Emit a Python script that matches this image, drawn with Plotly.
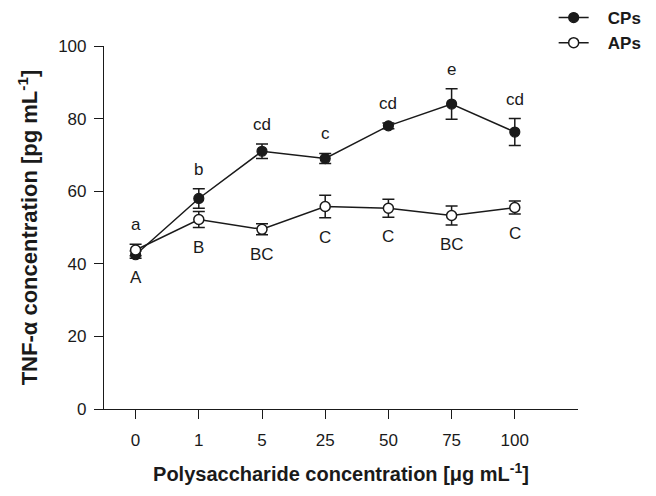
import plotly.graph_objects as go

categories = ["0", "1", "5", "25", "50", "75", "100"]
cps_mean = [42.5, 58.0, 71.0, 69.0, 78.0, 84.0, 76.3]
cps_err = [1.0, 2.7, 2.0, 1.4, 0.8, 4.2, 3.7]
aps_mean = [43.8, 52.2, 49.5, 55.8, 55.3, 53.3, 55.5]
aps_err = [1.6, 2.2, 1.5, 3.1, 2.5, 2.6, 1.8]
cps_letters = ["a", "b", "cd", "c", "cd", "e", "cd"]
aps_letters = ["A", "B", "BC", "C", "C", "BC", "C"]
y_ticks = [0, 20, 40, 60, 80, 100]

FONT = "Arial, Liberation Sans, sans-serif"
INK = "#1a1a1a"
NB = "\u00a0\u00a0\u00a0"
xs = list(range(len(categories)))

fig = go.Figure()
fig.add_trace(go.Scatter(
    x=xs, y=cps_mean, name=NB + "CPs", mode="lines+markers",
    line=dict(color=INK, width=1.5),
    marker=dict(symbol="circle", size=10, color=INK, line=dict(color=INK, width=1.2)),
    error_y=dict(type="data", array=cps_err, color=INK, thickness=1.5, width=6),
    legendgroup="c",
))
fig.add_trace(go.Scatter(
    x=xs, y=aps_mean, name=NB + "APs", mode="lines+markers",
    line=dict(color=INK, width=1.5),
    marker=dict(symbol="circle", size=10, color="white", line=dict(color=INK, width=1.5)),
    error_y=dict(type="data", array=aps_err, color=INK, thickness=1.5, width=6),
    legendgroup="a",
))

annotations = []
for i in xs:
    top = cps_mean[i] + cps_err[i]
    if i == 0:
        top = max(top, aps_mean[i] + aps_err[i])
    annotations.append(dict(x=i, y=top, xref="x", yref="y", text=cps_letters[i],
                            showarrow=False, yanchor="bottom", yshift=8,
                            font=dict(family=FONT, size=17, color=INK)))
    bot = aps_mean[i] - aps_err[i]
    if i == 0:
        bot = min(bot, cps_mean[i] - cps_err[i])
    annotations.append(dict(x=i, y=bot, xref="x", yref="y", text=aps_letters[i],
                            showarrow=False, yanchor="top", yshift=-8,
                            font=dict(family=FONT, size=17, color=INK)))

fig.update_layout(
    width=656, height=496,
    margin=dict(l=104, r=78, t=46, b=87, autoexpand=False),
    paper_bgcolor="white", plot_bgcolor="white",
    font=dict(family=FONT, color=INK),
    showlegend=True,
    legend=dict(x=0.844, y=1.0, xref="container", yref="container",
                xanchor="left", yanchor="top",
                font=dict(family=FONT, size=17, color=INK, weight="bold"),
                bgcolor="rgba(0,0,0,0)", tracegroupgap=0, itemwidth=30),
    annotations=annotations,
    xaxis=dict(
        range=[-0.5, 7.0], tickmode="array", tickvals=xs, ticktext=categories,
        showgrid=False, zeroline=False, showline=True, linecolor=INK, linewidth=1.2,
        ticks="outside", ticklen=9, tickwidth=1.2, tickcolor=INK,
        tickfont=dict(family=FONT, size=17, color=INK), ticklabelstandoff=6,
        title=dict(text="Polysaccharide concentration [μg mL<sup>-1</sup>]",
                   font=dict(family=FONT, size=20, color=INK, weight="bold"), standoff=18),
    ),
    yaxis=dict(
        range=[0, 100], tickmode="array", tickvals=y_ticks,
        showgrid=False, zeroline=False, showline=True, linecolor=INK, linewidth=1.2,
        ticks="outside", ticklen=9, tickwidth=1.2, tickcolor=INK,
        tickfont=dict(family=FONT, size=17, color=INK), ticklabelstandoff=4,
        title=dict(text="\u00a0\u00a0\u00a0TNF-α concentration [pg mL<sup>-1</sup>]",
                   font=dict(family=FONT, size=22, color=INK, weight="bold"), standoff=14),
    ),
)

fig.write_html("out.html")
